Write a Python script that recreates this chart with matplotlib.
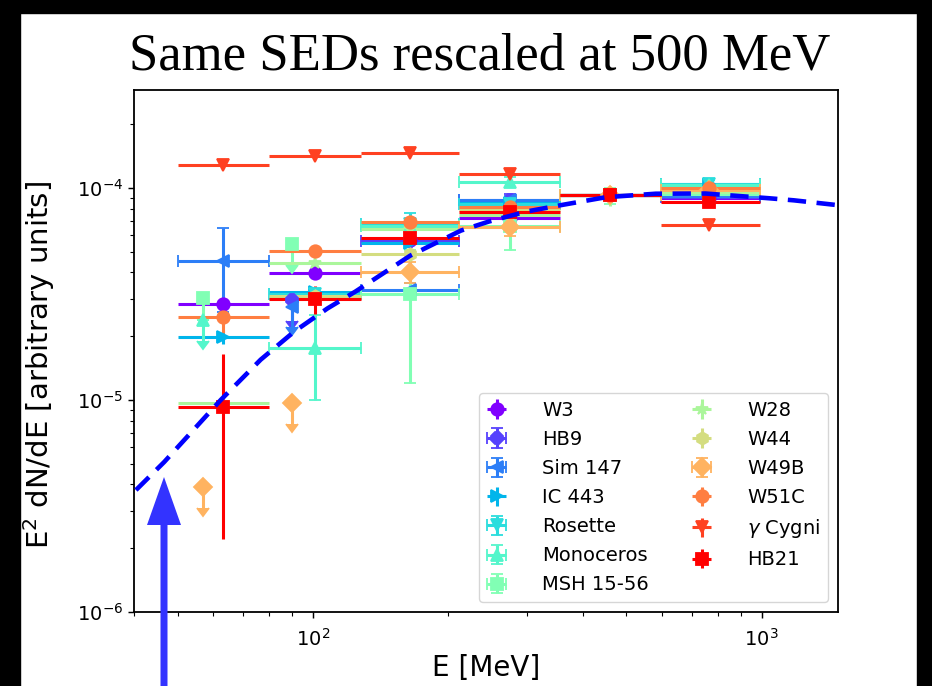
import numpy as np
import matplotlib
matplotlib.use("Agg")
import matplotlib.pyplot as plt
from matplotlib.patches import Rectangle, FancyArrow

nan = np.nan

# energy bins (MeV)
e_mid = [63, 101, 165, 275, 460, 765]
e_lo = [50, 80, 128, 212, 355, 596]
e_hi = [80, 128, 212, 355, 596, 990]

names = ["W3", "HB9", "Sim 147", "IC 443", "Rosette", "Monoceros", "MSH 15-56",
         "W28", "W44", "W49B", "W51C", r"$\gamma$ Cygni", "HB21"]

# E^2 dN/dE in each bin (nan = no point)
w3 =        [2.84e-5, 3.96e-5, 5.70e-5, 7.20e-5, 9.25e-5, 8.94e-5]
hb9 =       [nan,     nan,     5.65e-5, 8.80e-5, 9.25e-5, 9.10e-5]
sim147 =    [4.54e-5, nan,     3.30e-5, 8.75e-5, 9.25e-5, 9.20e-5]
ic443 =     [1.99e-5, 3.22e-5, 5.50e-5, 8.50e-5, 9.25e-5, 1.05e-4]
rosette =   [nan,     3.15e-5, 6.75e-5, 8.40e-5, 9.25e-5, 1.04e-4]
monoceros = [nan,     1.76e-5, 6.60e-5, 1.07e-4, 9.25e-5, 1.03e-4]
msh1556 =   [nan,     nan,     3.16e-5, 6.60e-5, 9.25e-5, 9.40e-5]
w28 =       [9.68e-6, 4.44e-5, 6.38e-5, 7.45e-5, 9.25e-5, 9.60e-5]
w44 =       [nan,     3.08e-5, 4.88e-5, 7.90e-5, 9.25e-5, 9.90e-5]
w49b =      [nan,     nan,     4.03e-5, 6.57e-5, 9.25e-5, 9.78e-5]
w51c =      [2.47e-5, 5.05e-5, 6.93e-5, 8.15e-5, 9.25e-5, 1.00e-4]
gcygni =    [1.28e-4, 1.42e-4, 1.46e-4, 1.16e-4, 9.25e-5, 6.69e-5]
hb21 =      [9.30e-6, 2.99e-5, 5.79e-5, 7.73e-5, 9.25e-5, 8.61e-5]

# errors
w3_err =        [1.2e-6, 1.5e-6, 2e-6,   2e-6,   3e-6, 3e-6]
hb9_err =       [nan,    nan,    2e-6,   6e-6,   4e-6, 4e-6]
sim147_err =    [1.94e-5, nan,   2.5e-6, 4e-6,   4e-6, 5e-6]
ic443_err =     [1.5e-6, 1.5e-6, 2e-6,   3e-6,   3e-6, 4e-6]
rosette_err =   [nan,    2e-6,   9e-6,   5e-6,   5e-6, 5e-6]
monoceros_err = [nan,    7.6e-6, 5e-6,   6e-6,   6e-6, 7e-6]
msh1556_err =   [nan,    nan,    1.96e-5, 1.5e-5, 8e-6, 6e-6]
w28_err =       [1e-6,   2e-6,   3e-6,   4e-6,   1e-5, 5e-6]
w44_err =       [nan,    1.5e-6, 2e-6,   3e-6,   3e-6, 4e-6]
w49b_err =      [nan,    nan,    4.5e-6, 6e-6,   4e-6, 5e-6]
w51c_err =      [4e-6,   2e-6,   3e-6,   3e-6,   3e-6, 4e-6]
gcygni_err =    [2e-6,   2e-6,   2e-6,   2e-6,   2e-6, 2e-6]
hb21_err =      [7.1e-6, 4.5e-6, 3e-6,   3e-6,   3e-6, 5e-6]

# upper limits: (source, E, value)
ul_src = ["HB9", "Sim 147", "Monoceros", "MSH 15-56", "MSH 15-56", "W49B", "W49B"]
ul_e = [90, 90, 57, 57, 90, 57, 90]
ul_val = [2.95e-5, 2.75e-5, 2.38e-5, 3.03e-5, 5.44e-5, 3.88e-6, 9.68e-6]

# model curve
curve_e = [40.4, 46.7, 62.4, 76.6, 90.9, 107.8, 124.6, 165, 214, 247, 276, 300,
           357, 450, 581, 750, 1038, 1180, 1480]
curve_f = [3.76e-6, 5.1e-6, 1.0e-5, 1.55e-5, 2.1e-5, 2.7e-5, 3.25e-5, 4.8e-5,
           6.3e-5, 6.95e-5, 7.4e-5, 7.75e-5, 8.3e-5, 9.05e-5, 9.4e-5, 9.42e-5,
           8.95e-5, 8.75e-5, 8.3e-5]

fluxes = [w3, hb9, sim147, ic443, rosette, monoceros, msh1556, w28, w44, w49b, w51c, gcygni, hb21]
errs = [w3_err, hb9_err, sim147_err, ic443_err, rosette_err, monoceros_err, msh1556_err,
        w28_err, w44_err, w49b_err, w51c_err, gcygni_err, hb21_err]
markers = ["o", "8", "<", ">", "v", "^", "s", "*", "h", "D", "o", "v", "s"]
caps = [0, 4, 4, 0, 4, 4, 4, 0, 0, 4, 0, 0, 0]

plt.rcParams["font.family"] = "DejaVu Sans"
plt.rcParams["axes.linewidth"] = 1.3
plt.rcParams["xtick.major.size"] = 4.5
plt.rcParams["ytick.major.size"] = 4.5
plt.rcParams["xtick.minor.size"] = 2.6
plt.rcParams["ytick.minor.size"] = 2.6
plt.rcParams["xtick.major.width"] = 1.05
plt.rcParams["ytick.major.width"] = 1.05
plt.rcParams["xtick.minor.width"] = 0.8
plt.rcParams["ytick.minor.width"] = 0.8

fig = plt.figure(figsize=(9.32, 6.86), dpi=100)
ax = fig.add_axes([0.1438, 0.1079, 0.7553, 0.7609])

colors = plt.cm.rainbow(np.linspace(0, 1, len(names)))
e_mid_a = np.array(e_mid)
xerr = [e_mid_a - np.array(e_lo), np.array(e_hi) - e_mid_a]

for i, name in enumerate(names):
    f = np.array(fluxes[i])
    ok = ~np.isnan(f)
    ax.errorbar(e_mid_a[ok], f[ok], yerr=np.array(errs[i])[ok],
                xerr=[xerr[0][ok], xerr[1][ok]], fmt=markers[i], color=colors[i],
                ms=9, mew=1.3, elinewidth=2.2, capsize=caps[i], capthick=1.5,
                label=name)
    for src, e, v in zip(ul_src, ul_e, ul_val):
        if src == name:
            ax.errorbar([e], [v], yerr=[0.2 * v], uplims=True, fmt=markers[i],
                        color=colors[i], ms=9, mew=1.3, elinewidth=2.2,
                        capsize=caps[i] if caps[i] else 4, capthick=1.5)

ax.plot(curve_e, curve_f, color="#0000ff", lw=3.3, ls=(0, (4, 2.3)), zorder=5)

ax.set_xscale("log")
ax.set_yscale("log")
ax.set_xlim(40, 1480)
ax.set_ylim(1e-6, 2.9e-4)
ax.tick_params(labelsize=14)
ax.tick_params(axis="x", which="both", pad=7)
ax.set_xlabel("E [MeV]", fontsize=20, labelpad=3)
ax.set_ylabel(r"E$^2$ dN/dE [arbitrary units]", fontsize=21)
ax.yaxis.set_label_coords(-0.11, 0.473)

ax.legend(loc="lower right", ncol=2, fontsize=14, borderaxespad=0.5,
          labelspacing=0.52, handlelength=1.0, handletextpad=1.85,
          columnspacing=2.2)

fig.text(0.515, 0.899, "Same SEDs rescaled at 500 MeV", family="Liberation Serif",
         fontsize=38, ha="center", va="baseline")

# blue arrow
fig.add_artist(FancyArrow(164 / 932, 0.0, 0, 209 / 686, width=7 / 932,
                          head_width=34 / 932, head_length=48 / 686,
                          length_includes_head=True, color="#3333ff", lw=0,
                          transform=fig.transFigure, zorder=10))

# black frame of the slide
for r in [(0, 0, 20 / 932, 1), (917 / 932, 0, 15 / 932, 1), (0, 1 - 13 / 686, 1, 13 / 686)]:
    fig.add_artist(Rectangle(r[:2], r[2], r[3], color="black", transform=fig.transFigure,
                             zorder=20))

fig.savefig("out.png", dpi=100)
